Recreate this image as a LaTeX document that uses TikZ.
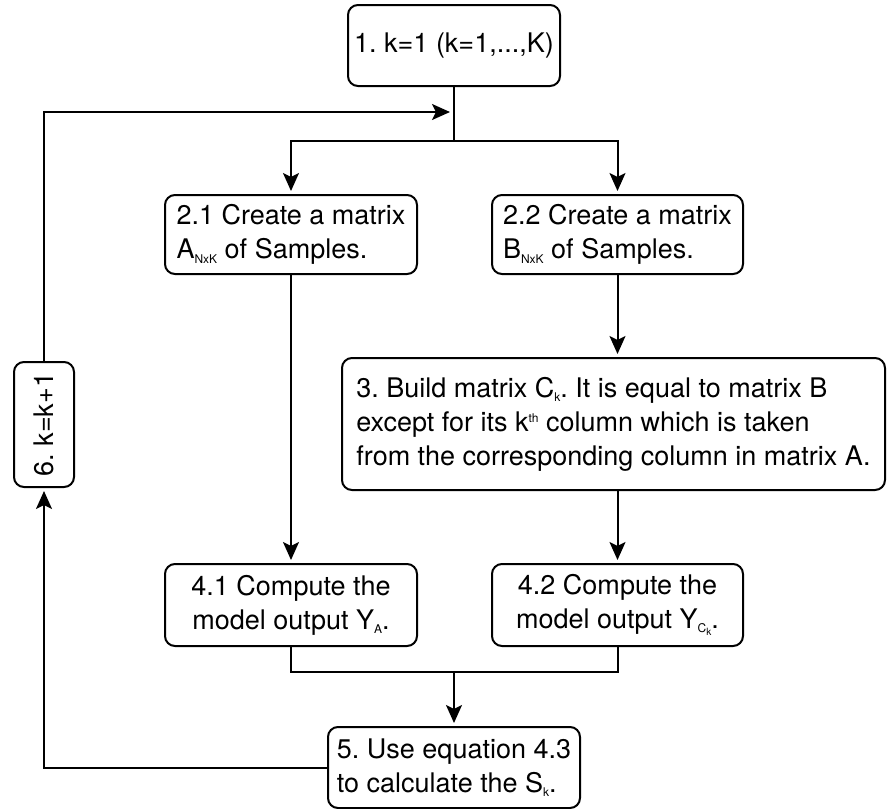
\documentclass[tikz,border=0pt]{standalone}
\usepackage{fontspec}
\setmainfont{TeX Gyre Heros}
\usetikzlibrary{arrows.meta,calc}
% small lowered / raised text for indices
\newcommand{\lowtxt}[1]{\raisebox{-4.5pt}{\fontsize{12}{12}\selectfont #1}}
\newcommand{\tinylow}[1]{\raisebox{-3pt}{\fontsize{10}{10}\selectfont #1}}
\newcommand{\hightxt}[1]{\raisebox{9pt}{\fontsize{12}{12}\selectfont #1}}
\frenchspacing
\begin{document}
\begin{tikzpicture}[x=1pt,y=-1pt,
  box/.style={draw, line width=2pt, rounded corners=10pt, inner sep=0pt,
              font=\fontsize{27}{34}\selectfont},
  link/.style={line width=2pt},
  arr/.style={link, -{Stealth[length=18pt,width=16pt,inset=4pt]}, shorten >=3pt}]
\useasboundingbox (0,0) rectangle (887,809);

% process steps
\node[box, minimum width=212pt, minimum height=81pt] (b1) at (454,45.5) {1. k=1 (k=1,...,K)};
\node[box, align=left, minimum width=252pt, minimum height=79pt] (b21) at (291,234.5)
  {2.1 Create a matrix\\A\lowtxt{NxK} of Samples.};
\node[box, align=left, minimum width=251pt, minimum height=79pt] (b22) at (617.5,234.5)
  {2.2 Create a matrix\\B\lowtxt{NxK} of Samples.};
\node[box, align=left, minimum width=543pt, minimum height=132pt] (b3) at (613.5,424)
  {3. Build matrix C\lowtxt{k}. It is equal to matrix B\\except for its k\hightxt{th} column which is taken\\from the corresponding column in matrix A.};
\node[box, align=center, minimum width=252pt, minimum height=82pt] (b41) at (291,605)
  {4.1 Compute the\\model output Y\lowtxt{A}.};
\node[box, align=center, minimum width=251pt, minimum height=82pt] (b42) at (617.5,605)
  {4.2 Compute the\\model output Y\lowtxt{C\tinylow{k}}.};
\node[box, align=left, minimum width=252pt, minimum height=81pt] (b5) at (454,767.5)
  {5. Use equation 4.3\\to calculate the S\lowtxt{k}.};
\node[box, minimum width=60pt, minimum height=125pt] (b6) at (44,424.5)
  {\rotatebox{90}{6. k=k+1}};

% connectors
\coordinate (split) at (454,141);
\coordinate (merge) at (454,672);
\coordinate (back) at (454,112);
\draw[link] (b1.south) -- (split);
\draw[arr] (split) -| (b21.north);
\draw[arr] (split) -| (b22.north);
\draw[arr] (b21.south) -- (b41.north);
\draw[arr] (b22.south) -- (b22.south |- b3.north);
\draw[arr] (b42.north |- b3.south) -- (b42.north);
\draw[link] (b41.south) |- (merge) -| (b42.south);
\draw[arr] (merge) -- (b5.north);
\draw[arr] (b5.west) -| (b6.south);
\draw[arr, shorten >=4pt] (b6.north) |- (back);
\end{tikzpicture}
\end{document}
